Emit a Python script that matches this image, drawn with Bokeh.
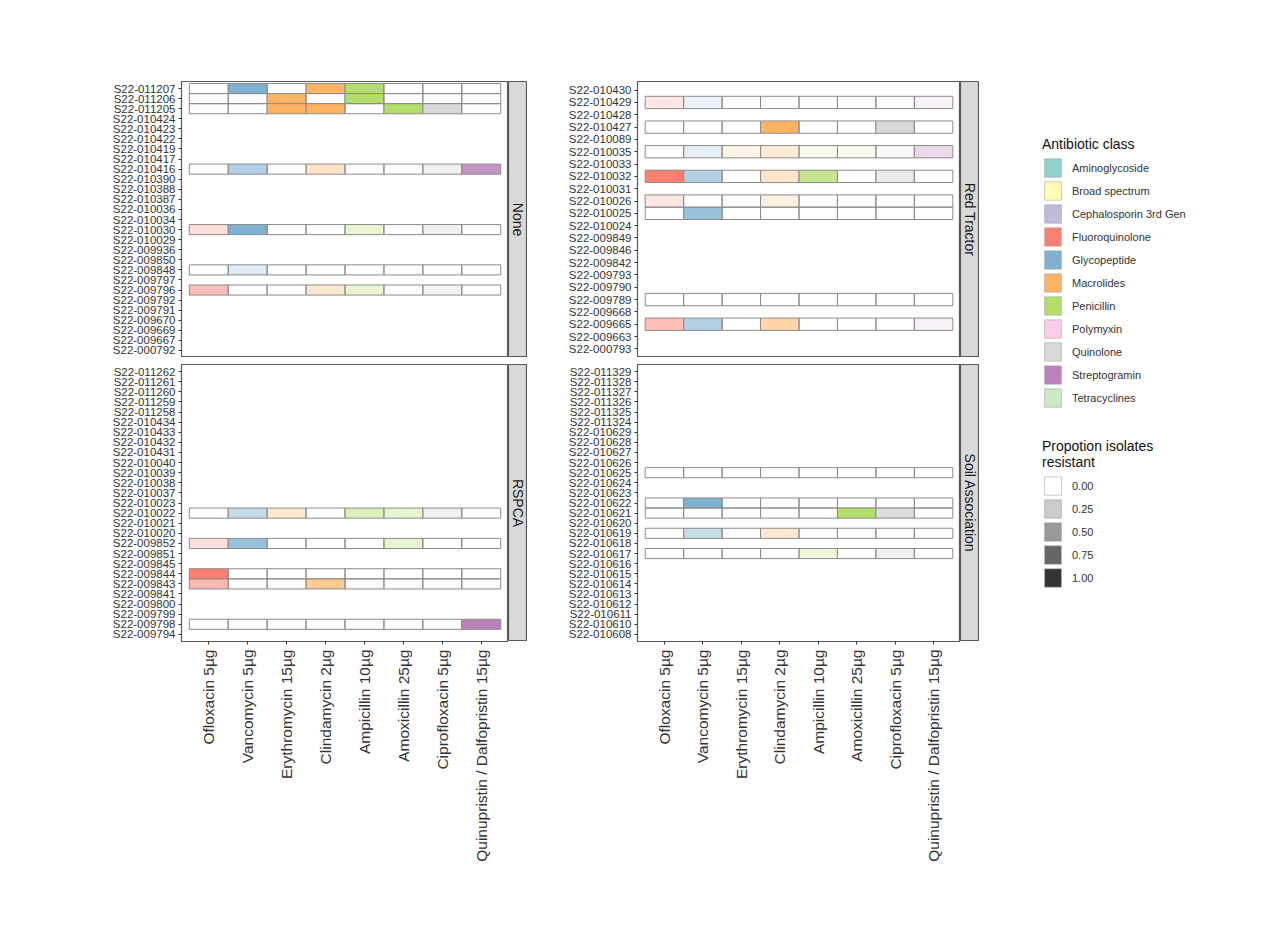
import math
from bokeh.plotting import figure
from bokeh.models import FactorRange, ColumnDataSource, Legend, LegendItem, Label
from bokeh.layouts import row, column
from bokeh.embed import file_html
from bokeh.resources import INLINE

FONT = "Liberation Sans"

# ---------------- data ----------------
antibiotics = ["Ofloxacin 5µg", "Vancomycin 5µg", "Erythromycin 15µg", "Clindamycin 2µg",
               "Ampicillin 10µg", "Amoxicillin 25µg", "Ciprofloxacin 5µg",
               "Quinupristin / Dalfopristin 15µg"]
abx_class = ["Fluoroquinolone", "Glycopeptide", "Macrolides", "Macrolides",
             "Penicillin", "Penicillin", "Quinolone", "Streptogramin"]

class_names = ["Aminoglycoside", "Broad spectrum", "Cephalosporin 3rd Gen", "Fluoroquinolone",
               "Glycopeptide", "Macrolides", "Penicillin", "Polymyxin", "Quinolone",
               "Streptogramin", "Tetracyclines"]
class_colors = ["#8DD3C7", "#FFFFB3", "#BEBADA", "#FB8072", "#80B1D3", "#FDB462",
                "#B3DE69", "#FCCDE5", "#D9D9D9", "#BC80BD", "#CCEBC5"]

prop_levels = [0.0, 0.25, 0.5, 0.75, 1.0]
prop_labels = ["0.00", "0.25", "0.50", "0.75", "1.00"]

# Panel "None"
none_ids = ["S22-011207", "S22-011206", "S22-011205", "S22-010424", "S22-010423", "S22-010422",
            "S22-010419", "S22-010417", "S22-010416", "S22-010390", "S22-010388", "S22-010387",
            "S22-010036", "S22-010034", "S22-010030", "S22-010029", "S22-009936", "S22-009850",
            "S22-009848", "S22-009797", "S22-009796", "S22-009792", "S22-009791", "S22-009670",
            "S22-009669", "S22-009667", "S22-000792"]
none_rows = ["S22-011207", "S22-011206", "S22-011205", "S22-010416", "S22-010030",
             "S22-009848", "S22-009796"]
none_prop = [[0, 1, 0, 1, 1, 0, 0, 0],
             [0, 0, 1, 0, 1, 0, 0, 0],
             [0, 0, 1, 1, 0, 1, 1, 0],
             [0, 0.6, 0, 0.35, 0, 0, 0.4, 0.85],
             [0.25, 1, 0, 0, 0.3, 0, 0.4, 0],
             [0, 0.25, 0, 0, 0, 0, 0, 0],
             [0.5, 0, 0, 0.3, 0.3, 0, 0.35, 0]]

# Panel "RSPCA"
rspca_ids = ["S22-011262", "S22-011261", "S22-011260", "S22-011259", "S22-011258", "S22-010434",
             "S22-010433", "S22-010432", "S22-010431", "S22-010040", "S22-010039", "S22-010038",
             "S22-010037", "S22-010023", "S22-010022", "S22-010021", "S22-010020", "S22-009852",
             "S22-009851", "S22-009845", "S22-009844", "S22-009843", "S22-009841", "S22-009800",
             "S22-009799", "S22-009798", "S22-009794"]
rspca_rows = ["S22-010022", "S22-009852", "S22-009844", "S22-009843", "S22-009798"]
rspca_prop = [[0, 0.45, 0.3, 0, 0.45, 0.3, 0.4, 0],
              [0.25, 0.8, 0, 0, 0, 0.3, 0, 0],
              [1, 0, 0, 0, 0, 0, 0, 0],
              [0.55, 0, 0, 0.7, 0, 0, 0, 0],
              [0, 0, 0, 0, 0, 0, 0, 1]]

# Panel "Red Tractor"
rt_ids = ["S22-010430", "S22-010429", "S22-010428", "S22-010427", "S22-010089", "S22-010035",
          "S22-010033", "S22-010032", "S22-010031", "S22-010026", "S22-010025", "S22-010024",
          "S22-009849", "S22-009846", "S22-009842", "S22-009793", "S22-009790", "S22-009789",
          "S22-009668", "S22-009665", "S22-009663", "S22-000793"]
rt_rows = ["S22-010429", "S22-010427", "S22-010035", "S22-010032", "S22-010026",
           "S22-010025", "S22-009789", "S22-009665"]
rt_prop = [[0.2, 0.15, 0, 0, 0, 0, 0, 0.12],
           [0, 0, 0, 1, 0, 0, 1, 0],
           [0, 0.2, 0.15, 0.25, 0.12, 0.12, 0.15, 0.3],
           [1, 0.6, 0, 0.35, 0.75, 0, 0.55, 0],
           [0.2, 0, 0, 0.2, 0, 0, 0, 0],
           [0, 0.8, 0, 0, 0, 0, 0, 0],
           [0, 0, 0, 0, 0, 0, 0, 0],
           [0.5, 0.6, 0, 0.55, 0, 0, 0, 0.1]]

# Panel "Soil Association"
soil_ids = ["S22-011329", "S22-011328", "S22-011327", "S22-011326", "S22-011325", "S22-011324",
            "S22-010629", "S22-010628", "S22-010627", "S22-010626", "S22-010625", "S22-010624",
            "S22-010623", "S22-010622", "S22-010621", "S22-010620", "S22-010619", "S22-010618",
            "S22-010617", "S22-010616", "S22-010615", "S22-010614", "S22-010613", "S22-010612",
            "S22-010611", "S22-010610", "S22-010608"]
soil_rows = ["S22-010625", "S22-010622", "S22-010621", "S22-010619", "S22-010617"]
soil_prop = [[0, 0, 0, 0, 0, 0, 0, 0],
             [0, 1, 0, 0, 0, 0, 0, 0],
             [0, 0, 0, 0, 0, 1, 0.9, 0],
             [0, 0.45, 0, 0.3, 0, 0, 0, 0],
             [0, 0, 0, 0, 0.25, 0, 0.4, 0]]

color_of = dict(zip(class_names, class_colors))


def panel(ids, rows, props, frame_w, frame_h, top_border, left_border, show_x):
    d = {"abx": [], "iso": [], "color": [], "alpha": []}
    for iso, vals in zip(rows, props):
        for ab, cl, v in zip(antibiotics, abx_class, vals):
            d["abx"].append(ab)
            d["iso"].append(iso)
            d["color"].append(color_of[cl])
            d["alpha"].append(v)
    src = ColumnDataSource(d)
    xr = FactorRange(factors=antibiotics, range_padding=0.2, range_padding_units="absolute")
    yr = FactorRange(factors=list(reversed(ids)), range_padding=0.2, range_padding_units="absolute")
    p = figure(x_range=xr, y_range=yr, frame_width=frame_w, frame_height=frame_h,
               output_backend="svg", toolbar_location=None,
               x_axis_location="below" if show_x else None,
               min_border_left=left_border, min_border_top=top_border,
               min_border_right=0, min_border_bottom=0,
               background_fill_color="white", border_fill_color="white",
               outline_line_color="#595959", outline_line_width=1.2)
    p.grid.visible = False
    p.rect(x="abx", y="iso", width=1, height=1, source=src, fill_color="color",
           fill_alpha="alpha", line_color="#8C8C8C", line_width=1)
    ya = p.yaxis[0]
    ya.axis_line_color = None
    ya.major_tick_out = 3
    ya.major_tick_in = 0
    ya.major_tick_line_color = "#333333"
    ya.major_label_standoff = 3
    ya.major_label_text_font = FONT
    ya.major_label_text_font_size = "11.5px"
    ya.major_label_text_color = "#333333"
    if show_x:
        xa = p.xaxis[0]
        xa.axis_line_color = None
        xa.major_tick_out = 3
        xa.major_tick_in = 0
        xa.major_tick_line_color = "#333333"
        xa.major_label_standoff = 5
        xa.major_label_orientation = math.pi / 2
        xa.major_label_text_font = FONT
        xa.major_label_text_font_size = "15.5px"
        xa.major_label_text_color = "#333333"
    return p


def strip(label, frame_h, top_border):
    s = figure(x_range=(0, 1), y_range=(0, 1), frame_width=19, frame_height=frame_h,
               x_axis_location=None, y_axis_location=None, toolbar_location=None,
               output_backend="svg", min_border_left=0, min_border_right=0,
               min_border_top=top_border, min_border_bottom=0,
               background_fill_color="#D9D9D9", border_fill_color="white",
               outline_line_color="#595959", outline_line_width=1.2)
    s.grid.visible = False
    s.add_layout(Label(x=0.5, y=0.5, text=label, angle=-math.pi / 2, text_align="center",
                       text_baseline="middle", text_font=FONT, text_font_size="14px",
                       text_color="#1A1A1A"))
    return s


p_none = panel(none_ids, none_rows, none_prop, 327, 276, 81, 181, False)
p_rspca = panel(rspca_ids, rspca_rows, rspca_prop, 327, 277, 7, 181, True)
p_rt = panel(rt_ids, rt_rows, rt_prop, 323, 276, 81, 110, False)
p_soil = panel(soil_ids, soil_rows, soil_prop, 323, 277, 7, 110, True)

s_none = strip("None", 276, 81)
s_rspca = strip("RSPCA", 277, 7)
s_rt = strip("Red Tractor", 276, 81)
s_soil = strip("Soil Association", 277, 7)

# ---------------- legends ----------------
lf = figure(width=230, height=600, x_range=(1, 2), y_range=(1, 2),
            x_axis_location=None, y_axis_location=None,
            toolbar_location=None, output_backend="svg", outline_line_color=None,
            min_border=0, background_fill_color="white", border_fill_color="white")
lf.grid.visible = False

# legend key renderers (zero-size, outside the visible range; used only for legend swatches)
cls_src = ColumnDataSource(dict(x=[0] * len(class_names), y=[0] * len(class_names),
                                c=class_colors))
r_cls = lf.rect(x="x", y="y", width=0, height=0, source=cls_src, fill_color="c",
                line_color="#A6A6A6", line_width=0.6)
class_items = [LegendItem(label=name, renderers=[r_cls], index=i)
               for i, name in enumerate(class_names)]

prop_src = ColumnDataSource(dict(x=[0] * len(prop_levels), y=[0] * len(prop_levels),
                                 a=prop_levels))
r_prop = lf.rect(x="x", y="y", width=0, height=0, source=prop_src, fill_color="#333333",
                 fill_alpha="a", line_color="#A6A6A6", line_width=0.6)
prop_items = [LegendItem(label=lab, renderers=[r_prop], index=i)
              for i, lab in enumerate(prop_labels)]


def style_legend(lg):
    lg.title_text_font = FONT
    lg.title_text_font_size = "14px"
    lg.title_text_font_style = "normal"
    lg.title_text_color = "#111111"
    lg.title_standoff = 4
    lg.label_text_font = FONT
    lg.label_text_font_size = "11px"
    lg.label_text_color = "#333333"
    lg.glyph_width = 21
    lg.glyph_height = 23
    lg.label_height = 23
    lg.spacing = 0
    lg.padding = 0
    lg.margin = 0
    lg.label_standoff = 9
    lg.border_line_color = None
    lg.background_fill_alpha = 0


leg1 = Legend(items=class_items, title="Antibiotic class", location=(63, 191))
leg2 = Legend(items=prop_items, title="Propotion isolates\nresistant", location=(63, 11))
style_legend(leg1)
style_legend(leg2)
lf.add_layout(leg1)
lf.add_layout(leg2)

layout = row(column(p_none, p_rspca), column(s_none, s_rspca),
             column(p_rt, p_soil), column(s_rt, s_soil), lf)

open("out.html", "w").write(file_html(layout, INLINE))
